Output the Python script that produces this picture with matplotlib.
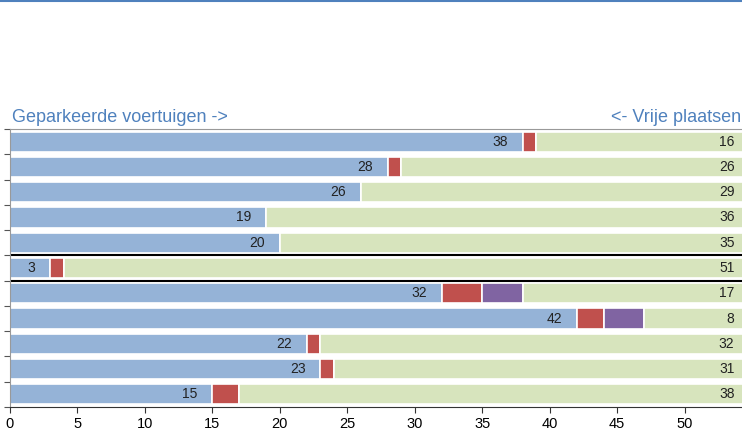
import matplotlib.pyplot as plt
import numpy as np

# data per row (top to bottom)
geparkeerd = [38, 28, 26, 19, 20, 3, 32, 42, 22, 23, 15]
rood = [1, 1, 0, 0, 0, 1, 3, 2, 1, 1, 2]
paars = [0, 0, 0, 0, 0, 0, 3, 3, 0, 0, 0]
vrij = [16, 26, 29, 36, 35, 51, 17, 8, 32, 31, 38]

plt.rcParams['font.family'] = ['Liberation Sans', 'DejaVu Sans']

fig = plt.figure(figsize=(7.42, 4.37), dpi=100)
ax = fig.add_axes([10/742, 1-407/437, 742/742, (407-129)/437])

y = np.arange(len(geparkeerd))
p = np.array(geparkeerd)
r = np.array(rood)
q = np.array(paars)
v = np.array(vrij)

kw = dict(height=0.8, edgecolor='white', linewidth=1.2)
ax.barh(y, p, color='#95b3d7', **kw)
ax.barh(y, r, left=p, color='#c0504d', **kw)
ax.barh(y, q, left=p+r, color='#8064a2', **kw)
ax.barh(y, v, left=p+r+q, color='#d7e4bd', **kw)

for i in range(len(y)):
    ax.text(p[i]-1.1, y[i], str(p[i]), ha='right', va='center', fontsize=10, color='#222222')
    ax.text(53.7, y[i], str(v[i]), ha='right', va='center', fontsize=10, color='#222222')

# separator lines
ax.axhline(4.5, color='black', lw=1.5)
ax.axhline(5.5, color='black', lw=1.5)

ax.set_xlim(0, 55)
ax.set_ylim(len(y)-0.5, -0.5)
ax.set_xticks(range(0, 55, 5))
ax.set_yticks(np.arange(-0.5, len(y), 1))
ax.set_yticklabels([])
ax.tick_params(axis='y', length=4, color='#555555')
ax.tick_params(axis='x', length=4, color='#333333', labelsize=10.5)
for s in ['top', 'left']:
    ax.spines[s].set_color('#999999')
ax.spines['right'].set_visible(False)
ax.spines['bottom'].set_color('#333333')

blauw = '#4f81bd'
fig.text(12/742, 1-118/437, 'Geparkeerde voertuigen ->', color=blauw, fontsize=13, va='center', ha='left')
fig.text(741/742, 1-118/437, '<- Vrije plaatsen', color=blauw, fontsize=13, va='center', ha='right')
fig.add_artist(plt.Line2D([0, 1], [1-1/437, 1-1/437], color=blauw, lw=1.5))

fig.savefig('out.png', dpi=100)
